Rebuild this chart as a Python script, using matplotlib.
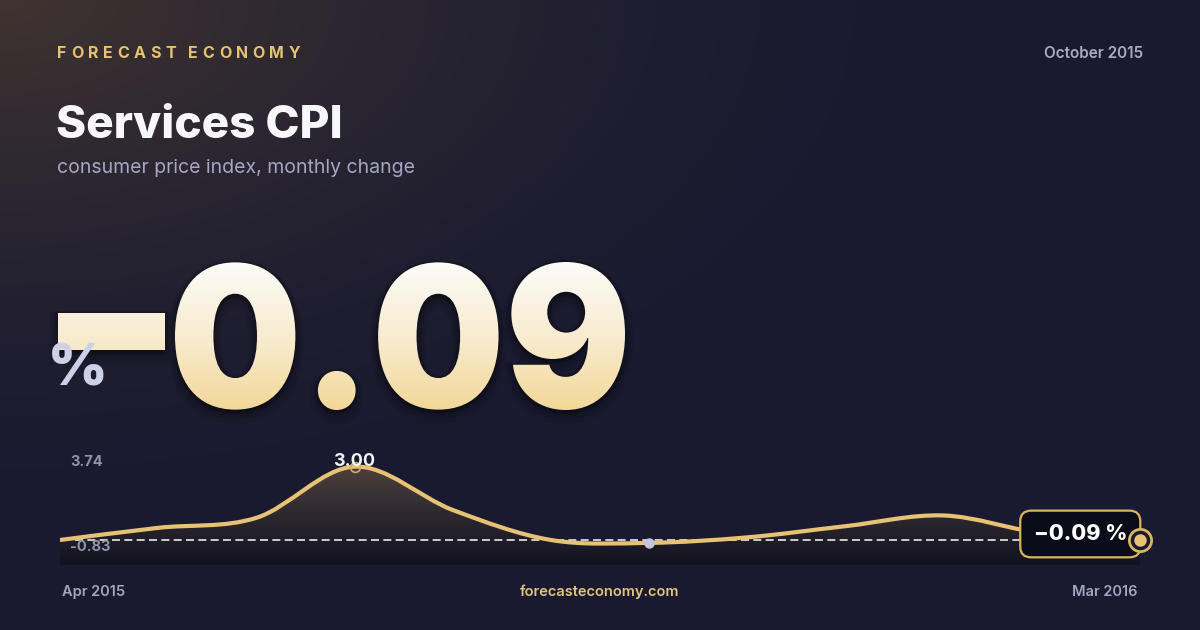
import numpy as np
import matplotlib
matplotlib.use("Agg")
import matplotlib.pyplot as plt
from matplotlib.path import Path
from matplotlib.patches import PathPatch
from matplotlib.textpath import TextPath
from matplotlib.font_manager import FontProperties
from matplotlib.colors import LinearSegmentedColormap
from matplotlib.transforms import Affine2D

# monthly change of services CPI, Apr 2015 - Mar 2016
months = ["Apr 2015", "May 2015", "Jun 2015", "Jul 2015", "Aug 2015", "Sep 2015",
          "Oct 2015", "Nov 2015", "Dec 2015", "Jan 2016", "Feb 2016", "Mar 2016"]
cpi = [-0.08, 0.43, 0.85, 3.00, 1.18, -0.08, -0.20, 0.03, 0.50, 0.95, 0.20, -0.09]
y_hi, y_lo = 3.74, -0.83
brand = "FORECAST ECONOMY"
title = "Services CPI"
subtitle = "consumer price index, monthly change"
date_label = "October 2015"
site = "forecasteconomy.com"

latest = cpi[-1]
GOLD = "#e8c274"
FONT = "Inter"

fig = plt.figure(figsize=(12, 6.3), dpi=100)
bg = fig.add_axes([0, 0, 1, 1])
bg.set_xlim(0, 1200)
bg.set_ylim(630, 0)
bg.axis("off")

# background with warm glow in the top-left corner
yy, xx = np.mgrid[0:630, 0:1200]
glow = np.clip(1 - np.sqrt((xx / 950) ** 2 + (yy / 520) ** 2), 0, 1) ** 1.6
base = np.array([25, 26, 48]) / 255
warm = np.array([64, 52, 48]) / 255
bg.imshow(base + (warm - base) * glow[..., None], extent=(0, 1200, 630, 0),
          aspect="auto", zorder=0)

# header with letter spacing
renderer = fig.canvas.get_renderer()
x = 57
for ch in brand:
    if ch == " ":
        x += 8
        continue
    t = bg.text(x, 53, ch, fontsize=11.5, weight="bold", color=GOLD,
                family=FONT, va="center", ha="left")
    x += t.get_window_extent(renderer).width + 4.6

bg.text(1143, 54, date_label, fontsize=11, weight="semibold", color="#a9abc4",
        family=FONT, va="center", ha="right")
bg.text(56, 126, title, fontsize=33, weight="heavy", color="#f8f8fc",
        family=FONT, va="center", ha="left")
bg.text(57, 168, subtitle, fontsize=14, color="#a5a7c4",
        family=FONT, va="center", ha="left")

# big number, gradient filled
fp_big = FontProperties(family=FONT, weight="black")
tp = TextPath((0, 0), f"{abs(latest):.2f}", size=100, prop=fp_big)
ext = tp.get_extents()
tr = (Affine2D().translate(-ext.x0, -ext.y0)
      .scale(450 / ext.width, -148 / ext.height).translate(175, 410))
num_path = tr.transform_path(tp)
if latest < 0:
    minus = Path([(58, 313), (165, 313), (165, 350), (58, 350), (58, 313)],
                 [Path.MOVETO, Path.LINETO, Path.LINETO, Path.LINETO, Path.CLOSEPOLY])
    num_path = Path.make_compound_path(num_path, minus)

for off, a in ((6, 0.10), (4, 0.14), (2, 0.18)):
    bg.add_patch(PathPatch(num_path, facecolor="#08080f", edgecolor="#08080f",
                           lw=off * 2, alpha=a, zorder=2,
                           transform=Affine2D().translate(0, off) + bg.transData))
clip = PathPatch(num_path, facecolor="none", edgecolor="none", transform=bg.transData)
bg.add_patch(clip)
cream = LinearSegmentedColormap.from_list("cream", ["#fdfcf9", "#f8ecd2", "#f2d797"])
grad = np.linspace(0, 1, 256)[:, None]
im = bg.imshow(grad, cmap=cream, extent=(50, 640, 412, 258), aspect="auto", zorder=3)
im.set_clip_path(clip)

bg.text(78, 371, "%", fontsize=41, weight="black", color="#cdd1e8",
        family=FONT, va="center", ha="center", zorder=4)

# sparkline
ax = fig.add_axes([60 / 1200, 1 - 565 / 630, 1080 / 1200, 116 / 630])
ax.set_xlim(0, len(cpi) - 1)
ax.set_ylim(y_lo - 0.30, y_hi)
ax.axis("off")
ax.patch.set_alpha(0)

xs = np.arange(len(cpi), dtype=float)
ys = np.array(cpi)
pts = np.column_stack([xs, ys])
n = len(pts)
verts = [tuple(pts[0])]
codes = [Path.MOVETO]
for i in range(n - 1):
    p0 = pts[max(i - 1, 0)]
    p1 = pts[i]
    p2 = pts[i + 1]
    p3 = pts[min(i + 2, n - 1)]
    verts += [tuple(p1 + (p2 - p0) / 6), tuple(p2 - (p3 - p1) / 6), tuple(p2)]
    codes += [Path.CURVE4] * 3
line_path = Path(verts, codes)

bottom = ax.get_ylim()[0]
fill_path = Path(verts + [(xs[-1], bottom), (xs[0], bottom), (xs[0], bottom)],
                 codes + [Path.LINETO, Path.LINETO, Path.CLOSEPOLY])
fill_clip = PathPatch(fill_path, facecolor="none", edgecolor="none")
ax.add_patch(fill_clip)
area = LinearSegmentedColormap.from_list("area", ["#584a40", "#322c32", "#121220"])
gim = ax.imshow(grad, cmap=area, extent=(xs[0], xs[-1], bottom, y_hi),
                aspect="auto", zorder=1)
gim.set_clip_path(fill_clip)

ax.axhline(latest, color="white", alpha=0.9, lw=1.2, dashes=(4.8, 2.6),
           xmin=0.014, zorder=2)
ax.add_patch(PathPatch(line_path, facecolor="none", edgecolor=GOLD, lw=3.0,
                       capstyle="round", joinstyle="round", zorder=3))

imax = int(np.argmax(ys))
imin = int(np.argmin(ys))
ax.plot(xs[imax], ys[imax], "o", mfc="none", mec="#d6ad55", ms=7, mew=1.2, zorder=4)
ax.annotate(f"{ys[imax]:.2f}", (xs[imax], ys[imax]), xytext=(0, 4),
            textcoords="offset points", ha="center", va="center", fontsize=13,
            weight="bold", color="#f4f4f8", family=FONT, zorder=5)
ax.plot(xs[imin], ys[imin], "o", color="#c3c6de", ms=7.5, mew=0, zorder=4)

ax.annotate(f"{latest:.2f} %".replace("-", "\u2212"), (xs[-1], latest),
            xytext=(-43, 4.5), textcoords="offset points", ha="center", va="center",
            fontsize=15.5, weight="heavy", color="white", family=FONT, zorder=6,
            bbox=dict(boxstyle="round,pad=0.62,rounding_size=0.5", fc="#0b0c1a",
                      ec="#d8b45e", lw=1.6))
ax.plot(xs[-1], latest, "o", mfc="#1a1a2e", mec="#d8b45e", ms=16, mew=2,
        zorder=7, clip_on=False)
ax.plot(xs[-1], latest, "o", color=GOLD, ms=9, mew=0, zorder=8, clip_on=False)

# range labels on top of the sparkline
over = fig.add_axes([0, 0, 1, 1])
over.set_xlim(0, 1200)
over.set_ylim(630, 0)
over.axis("off")
over.patch.set_alpha(0)
over.text(70, 462, f"{y_hi:.2f}", fontsize=10.5, weight="bold", color="#8f91ae",
          family=FONT, va="center", ha="left")
over.text(70, 547, f"{y_lo:.2f}", fontsize=10.5, weight="bold", color="#8f91ae",
          family=FONT, va="center", ha="left")

# footer
bg.text(62, 592, months[0], fontsize=10.5, weight="semibold", color="#a3a6c2",
        family=FONT, va="center", ha="left")
bg.text(600, 592, site, fontsize=10.5, weight="semibold", color="#e3c47a",
        family=FONT, va="center", ha="center")
bg.text(1138, 592, months[-1], fontsize=10.5, weight="semibold", color="#a3a6c2",
        family=FONT, va="center", ha="right")

fig.savefig("out.png", dpi=100)
